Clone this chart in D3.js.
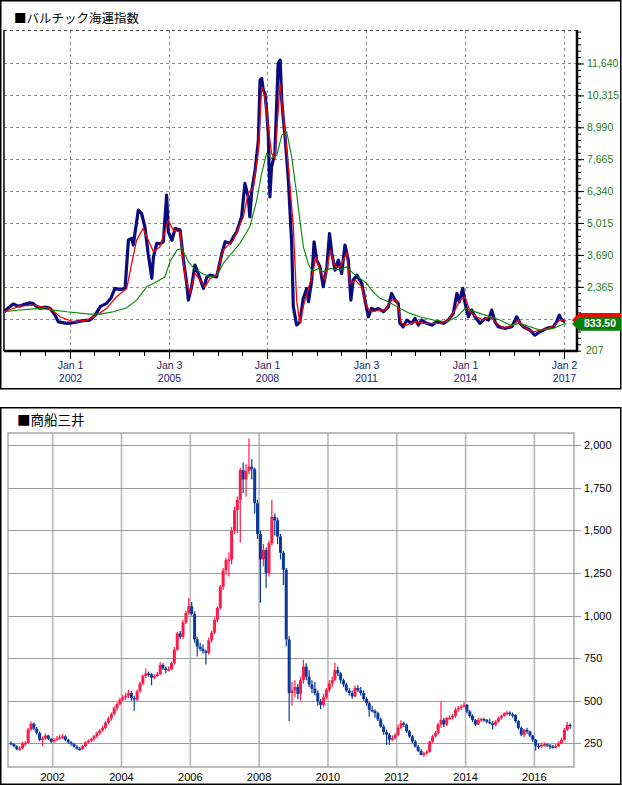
<!DOCTYPE html>
<html>
<head>
<meta charset="utf-8">
<script src="https://cdn.jsdelivr.net/npm/d3@7"></script>
<style>
  body { margin: 0; background: #fff; }
  svg { display: block; }
</style>
</head>
<body>
<svg id="chart" width="622" height="786"></svg>
<script>
/* ---- data: Baltic Dry Index, [decimal year, value] ---- */
var bdiLine = [[2000.00,1330],[2000.12,1480],[2000.28,1650],[2000.38,1590],[2000.49,1565],[2000.62,1640],[2000.79,1700],[2000.88,1680],[2000.97,1560],[2001.09,1470],[2001.25,1520],[2001.40,1470],[2001.55,1190],[2001.65,910],[2001.78,880],[2001.91,850],[2002.05,870],[2002.21,910],[2002.40,960],[2002.61,985],[2002.77,1190],[2002.92,1540],[2003.12,1680],[2003.25,1900],[2003.37,2300],[2003.52,2250],[2003.68,2300],[2003.78,4300],[2003.88,4380],[2003.93,4100],[2004.08,5550],[2004.18,5410],[2004.28,4860],[2004.38,3750],[2004.49,2720],[2004.54,3610],[2004.64,4170],[2004.74,4150],[2004.84,4240],[2004.94,6170],[2004.99,4650],[2005.10,4300],[2005.20,4790],[2005.35,4720],[2005.45,3480],[2005.55,2510],[2005.60,1810],[2005.70,2370],[2005.80,3270],[2005.90,2920],[2006.06,2300],[2006.16,2750],[2006.26,2850],[2006.46,2780],[2006.62,3750],[2006.72,4240],[2006.87,4170],[2006.97,4440],[2007.07,4650],[2007.22,5270],[2007.32,6660],[2007.42,6100],[2007.47,5270],[2007.53,6380],[2007.63,7210],[2007.73,8460],[2007.78,10950],[2007.83,11020],[2007.88,10530],[2007.93,10400],[2007.98,9700],[2008.03,8740],[2008.08,6100],[2008.13,7350],[2008.23,7900],[2008.33,11640],[2008.39,11780],[2008.44,10120],[2008.49,9290],[2008.54,8600],[2008.64,6800],[2008.74,4170],[2008.79,1540],[2008.89,780],[2008.99,900],[2009.09,1880],[2009.20,2300],[2009.25,1750],[2009.35,2645],[2009.42,4235],[2009.50,3475],[2009.60,3200],[2009.70,2370],[2009.81,3200],[2009.89,4580],[2009.96,3750],[2010.06,3060],[2010.16,3475],[2010.26,2920],[2010.36,4100],[2010.46,3475],[2010.54,1810],[2010.61,2645],[2010.72,2850],[2010.87,2510],[2010.97,1810],[2011.07,1120],[2011.17,1470],[2011.27,1400],[2011.37,1470],[2011.53,1330],[2011.68,1540],[2011.78,2090],[2011.88,1810],[2011.98,1680],[2012.03,850],[2012.13,706],[2012.24,985],[2012.39,850],[2012.49,1055],[2012.59,776],[2012.69,985],[2012.84,850],[2013.00,776],[2013.15,913],[2013.35,850],[2013.50,985],[2013.65,1260],[2013.76,2090],[2013.83,1745],[2013.94,2300],[2014.01,1680],[2014.11,1120],[2014.21,1400],[2014.31,1120],[2014.46,850],[2014.62,1055],[2014.72,985],[2014.82,1400],[2014.92,913],[2015.02,706],[2015.22,640],[2015.43,706],[2015.58,1120],[2015.68,850],[2015.78,706],[2015.98,570],[2016.13,361],[2016.29,500],[2016.49,640],[2016.69,706],[2016.79,913],[2016.87,1190],[2016.95,985],[2017.05,913]];

var bdiShortAvg = [[2000.00,1330],[2000.49,1565],[2000.89,1607],[2001.40,1470],[2001.70,1121],[2002.11,913],[2002.51,984],[2002.82,1192],[2003.12,1470],[2003.42,1951],[2003.73,2300],[2003.88,3338],[2004.03,4305],[2004.23,4791],[2004.38,4305],[2004.54,3820],[2004.74,4027],[2004.89,4721],[2004.99,5136],[2005.14,4721],[2005.35,4650],[2005.50,2782],[2005.65,2093],[2005.80,2923],[2005.96,2645],[2006.11,2367],[2006.26,2700],[2006.46,2852],[2006.66,3890],[2006.97,4305],[2007.27,5273],[2007.42,6245],[2007.58,6519],[2007.73,8042],[2007.83,10671],[2007.93,10255],[2008.03,9010],[2008.13,7905],[2008.23,7698],[2008.39,10812],[2008.49,9425],[2008.64,7349],[2008.79,4858],[2008.89,1814],[2008.99,847],[2009.09,1536],[2009.25,2300],[2009.40,3060],[2009.47,3612],[2009.60,3060],[2009.75,2645],[2009.91,3890],[2010.06,3197],[2010.21,3197],[2010.41,3753],[2010.51,2508],[2010.67,2645],[2010.87,2367],[2011.02,1536],[2011.17,1329],[2011.37,1399],[2011.58,1399],[2011.78,1814],[2011.93,1814],[2012.08,847],[2012.24,776],[2012.49,913],[2012.74,847],[2013.00,847],[2013.25,847],[2013.50,984],[2013.70,1399],[2013.86,1814],[2014.01,1951],[2014.16,1329],[2014.36,1121],[2014.56,984],[2014.77,1121],[2014.97,847],[2015.17,639],[2015.48,776],[2015.63,984],[2015.78,706],[2016.09,498],[2016.29,569],[2016.54,639],[2016.74,776],[2016.89,984],[2017.05,984]];

var bdiLongAvg = [[2000.00,1330],[2000.49,1400],[2001.09,1470],[2001.91,1330],[2002.61,1233],[2002.92,1233],[2003.32,1330],[2003.73,1495],[2004.03,1814],[2004.34,2367],[2004.64,2574],[2004.89,2782],[2005.04,3405],[2005.25,3890],[2005.40,3961],[2005.60,3405],[2005.80,3100],[2006.05,2900],[2006.30,2780],[2006.48,2850],[2006.66,3338],[2007.17,4169],[2007.47,4858],[2007.68,5966],[2007.83,7075],[2007.98,7905],[2008.13,7698],[2008.29,7835],[2008.44,8665],[2008.59,8802],[2008.74,7764],[2008.89,6245],[2009.00,5000],[2009.10,4000],[2009.25,3300],[2009.38,3000],[2009.55,3130],[2009.70,2990],[2009.91,3130],[2010.21,3060],[2010.41,3197],[2010.61,2923],[2010.82,2715],[2011.02,2508],[2011.17,2230],[2011.42,1885],[2011.68,1744],[2012.03,1470],[2012.33,1262],[2012.64,1121],[2013.04,984],[2013.45,913],[2013.76,1121],[2014.01,1470],[2014.16,1399],[2014.46,1262],[2014.77,1121],[2015.07,984],[2015.38,776],[2015.68,847],[2015.98,706],[2016.29,569],[2016.69,639],[2017.00,818],[2017.10,833.5]];

var bdiGrid = [1040, 2365, 3690, 5015, 6340, 7665, 8990, 10315, 11640];
var bdiTicks = [2365, 3690, 5015, 6340, 7665, 8990, 10315, 11640];
var bdiMinLabel = 207;
var bdiDateTicks = ["2002-01-01", "2005-01-03", "2008-01-01", "2011-01-03", "2014-01-01", "2017-01-02"];

/* ---- data: 商船三井 monthly bars from Oct 2000, [open, high, low, close] ---- */
var molStart = "2000-10-15";
var molBars = [
  [252,262,238,245],[245,250,225,232],[232,238,208,215],
  [215,232,205,220],[220,258,215,248],[248,262,232,252],[252,340,248,330],[330,378,322,365],[365,372,325,335],[335,345,300,310],[310,318,262,270],[270,290,232,278],[278,305,270,295],[295,300,268,275],[275,282,250,260],
  [260,280,252,270],[270,292,262,278],[278,300,270,285],[285,305,275,290],[290,296,262,270],[270,278,248,255],[255,262,235,245],[245,252,225,230],[230,238,212,218],[218,228,205,215],[215,240,210,232],[232,262,228,255],
  [255,272,245,265],[265,282,255,275],[275,298,262,290],[290,318,280,310],[310,332,300,325],[325,352,318,340],[340,380,332,370],[370,405,360,395],[395,430,382,420],[420,468,412,455],[455,490,440,480],[480,515,470,505],
  [505,535,495,520],[520,548,505,530],[530,565,515,545],[545,556,500,515],[515,528,440,505],[505,565,498,555],[555,612,548,600],[600,655,592,645],[645,690,632,660],[660,672,640,655],[655,662,590,635],[635,655,625,645],
  [645,668,638,655],[655,725,650,710],[710,720,680,690],[690,700,660,680],[680,700,672,685],[685,730,678,720],[720,815,712,800],[800,905,792,895],[895,910,860,875],[875,975,862,960],[960,1030,950,1015],[1015,1104,1005,1055],
  [1055,1080,1000,1010],[1010,1025,840,860],[860,875,760,818],[818,840,790,805],[805,830,775,790],[790,800,712,780],[780,870,770,855],[855,912,840,900],[900,990,890,975],[975,1055,960,1045],[1045,1180,1035,1170],[1170,1280,1150,1265],
  [1265,1340,1240,1325],[1325,1370,1230,1330],[1330,1520,1300,1500],[1500,1640,1480,1620],[1620,1700,1485,1680],[1680,1870,1430,1855],[1855,1900,1720,1800],[1800,1890,1698,1850],[1850,2040,1830,1875],[1875,1920,1800,1860],[1860,1870,1600,1660],[1660,1680,1450,1480],
  [1480,1500,1075,1330],[1330,1420,1290,1385],[1385,1400,1160,1250],[1250,1440,1230,1425],[1425,1680,1410,1580],[1580,1600,1470,1560],[1560,1575,1420,1465],[1465,1480,1330,1370],[1370,1380,1180,1270],[1270,1280,820,860],[860,880,380,545],[545,610,470,560],
  [560,620,520,580],[580,600,510,540],[540,640,500,620],[620,740,600,700],[700,720,620,640],[640,680,580,595],[595,620,545,570],[570,610,530,545],[545,560,470,495],[495,510,450,475],[475,540,465,520],[520,575,510,563],
  [563,620,550,600],[600,640,580,622],[622,722,612,680],[680,700,645,660],[660,668,600,620],[620,630,580,595],[595,605,550,560],[560,575,530,545],[545,560,510,525],[525,590,520,575],[575,592,550,560],[560,580,530,545],
  [545,560,500,510],[510,520,470,485],[485,495,406,446],[446,470,430,440],[440,450,400,426],[426,435,380,390],[390,400,340,348],[348,360,300,315],[315,330,240,300],[300,310,240,270],[270,295,262,280],[280,310,272,299],
  [299,360,290,340],[340,385,330,367],[367,378,345,358],[358,365,310,320],[320,328,280,290],[290,298,250,260],[260,270,225,230],[230,240,198,205],[205,215,178,181],[181,200,170,190],[190,210,182,200],[200,265,195,258],
  [258,300,250,290],[290,322,282,310],[310,370,300,360],[360,495,340,387],[387,400,345,360],[360,405,350,397],[397,412,385,400],[400,420,390,410],[410,460,400,446],[446,470,436,456],[456,478,445,465],[465,490,458,475],
  [475,480,425,436],[436,445,400,410],[410,420,375,387],[387,392,350,360],[360,398,355,387],[387,400,375,392],[392,398,378,387],[387,392,365,375],[375,395,360,367],[367,380,330,358],[358,385,350,377],[377,405,370,397],
  [397,418,388,410],[410,432,405,426],[426,440,415,430],[430,438,410,420],[420,430,400,416],[416,420,370,380],[380,385,330,340],[340,348,290,300],[300,335,285,328],[328,340,305,318],[318,325,285,295],[295,300,258,270],
  [270,275,205,235],[235,250,215,230],[230,252,222,240],[240,255,228,244],[244,250,228,238],[238,245,215,230],[230,240,218,228],[228,245,222,232],[232,262,228,250],[250,282,245,270],[270,340,265,328],[328,375,320,358],
  [358,365,335,350]
];
var molTicks = [250, 500, 750, 1000, 1250, 1500, 1750, 2000];
var molYears = [2002, 2004, 2006, 2008, 2010, 2012, 2014, 2016];

/* helpers */
function yearToDate(t) {
  var y = Math.floor(t), a = new Date(y, 0, 1), b = new Date(y + 1, 0, 1);
  return new Date(+a + (t - y) * (b - a));
}
var parseDay = d3.timeParse("%Y-%m-%d");
var font = "'Liberation Sans', Arial, sans-serif";
var cjk = "'Noto Sans CJK JP', sans-serif";

var svg = d3.select("#chart");

/* ================= top panel: バルチック海運指数 ================= */
var bdi_box = {left: 4, right: 577, top: 30, bottom: 351};
var bdi_x = d3.scaleTime()
    .domain([new Date(2000, 0, 1), yearToDate(2017.41)])
    .range([bdi_box.left, bdi_box.right]);
var bdi_y = d3.scaleLinear()
    .domain([-300, 13030])
    .range([bdi_box.bottom, bdi_box.top]);

svg.append('rect')
  .attr('x', 0.75).attr('y', 0.75).attr('width', 620).attr('height', 388)
  .style('fill', 'none').style('stroke', '#000').style('stroke-width', 1.5);

svg.append('text')
  .attr('x', 14).attr('y', 23)
  .style('font-family', cjk).style('font-size', '12.5px').style('fill', '#000')
  .text('■バルチック海運指数');

// dashed grid
var grid_top = svg.append('g').style('stroke', '#8c8c8c').style('stroke-dasharray', '3,3').style('stroke-width', 1);
bdiGrid.forEach(function(v) {
  grid_top.append('line')
    .attr('x1', bdi_box.left).attr('x2', bdi_box.right)
    .attr('y1', Math.round(bdi_y(v)) + 0.5).attr('y2', Math.round(bdi_y(v)) + 0.5);
});
bdiDateTicks.forEach(function(s) {
  var x = Math.round(bdi_x(parseDay(s))) + 0.5;
  grid_top.append('line').attr('x1', x).attr('x2', x).attr('y1', bdi_box.top).attr('y2', bdi_box.bottom);
});
grid_top.append('line')
  .attr('x1', bdi_box.left).attr('x2', bdi_box.right)
  .attr('y1', bdi_box.top + 0.5).attr('y2', bdi_box.top + 0.5)
  .style('stroke', '#444');

svg.append('line')
  .attr('x1', bdi_box.left).attr('x2', bdi_box.left)
  .attr('y1', bdi_box.top).attr('y2', bdi_box.bottom)
  .style('stroke', '#000').style('stroke-width', 1.5);

// series
var bdi_line = d3.line()
  .x(function(d) { return bdi_x(yearToDate(d[0])); })
  .y(function(d) { return bdi_y(d[1]); });

svg.append('path').datum(bdiLine).attr('d', bdi_line)
  .style('fill', 'none').style('stroke', '#0b0b80').style('stroke-width', 3.2).style('stroke-linejoin', 'round');
svg.append('path').datum(bdiShortAvg).attr('d', bdi_line)
  .style('fill', 'none').style('stroke', '#ff0000').style('stroke-width', 1.3);
svg.append('path').datum(bdiLongAvg).attr('d', bdi_line)
  .style('fill', 'none').style('stroke', '#008a00').style('stroke-width', 1.1);

// right value axis
var minorVals = d3.range(Math.ceil((-300 - 2365) / 265), Math.floor((13030 - 2365) / 265) + 1)
  .map(function(k) { return 2365 + k * 265; });
var bdi_minor = svg.append('g')
  .attr('transform', 'translate(' + bdi_box.right + ',0)')
  .call(d3.axisRight(bdi_y).tickValues(minorVals).tickSize(4).tickFormat(''));
bdi_minor.select('.domain').remove();

var bdi_right = svg.append('g')
  .attr('transform', 'translate(' + bdi_box.right + ',0)')
  .call(d3.axisRight(bdi_y).tickValues(bdiGrid).tickSize(7).tickPadding(3)
    .tickFormat(function(v) { return bdiTicks.indexOf(v) >= 0 ? d3.format(',')(v) : ''; }));
bdi_right.select('.domain').remove();
bdi_right.selectAll('text')
  .style('font-family', font).style('font-size', '10.5px').style('fill', '#1b7d1b');

svg.append('text')
  .attr('x', bdi_box.right + 9).attr('y', bdi_box.bottom).attr('dy', '0.32em')
  .style('font-family', font).style('font-size', '10.5px').style('fill', '#1b7d1b')
  .text(bdiMinLabel);

svg.selectAll('.tick line').style('stroke', '#000');

svg.append('line')
  .attr('x1', bdi_box.right).attr('x2', bdi_box.right)
  .attr('y1', bdi_box.top).attr('y2', bdi_box.bottom + 1)
  .style('stroke', '#000').style('stroke-width', 2.5);

// bottom date axis
svg.append('line')
  .attr('x1', bdi_box.left).attr('x2', bdi_box.right + 1)
  .attr('y1', bdi_box.bottom).attr('y2', bdi_box.bottom)
  .style('stroke', '#000').style('stroke-width', 2.5);

var minorDates = [];
for (var d = new Date(2000, 6, 1); d <= bdi_x.domain()[1]; d = d3.timeMonth.offset(d, 9)) minorDates.push(d);
minorDates.forEach(function(dd) {
  var x = Math.round(bdi_x(dd)) + 0.5;
  svg.append('line').attr('x1', x).attr('x2', x)
    .attr('y1', bdi_box.bottom).attr('y2', bdi_box.bottom + 5)
    .style('stroke', '#000').style('stroke-width', 1);
});
bdiDateTicks.forEach(function(s) {
  var dt = parseDay(s), x = Math.round(bdi_x(dt)) + 0.5;
  svg.append('line').attr('x1', x).attr('x2', x)
    .attr('y1', bdi_box.bottom).attr('y2', bdi_box.bottom + 8)
    .style('stroke', '#000').style('stroke-width', 1);
  svg.append('text')
    .attr('x', x).attr('y', 369)
    .style('font-family', font).style('font-size', '10.5px').style('fill', '#1c1c6e')
    .style('text-anchor', 'middle')
    .text(d3.timeFormat('%b %-d')(dt));
  svg.append('text')
    .attr('x', x).attr('y', 382)
    .style('font-family', font).style('font-size', '10.5px').style('fill', '#1c1c6e')
    .style('text-anchor', 'middle')
    .text(d3.timeFormat('%Y')(dt));
});

// last value tags
function valueTag(v, color) {
  var y = bdi_y(v);
  svg.append('path')
    .attr('d', 'M572,' + y + 'L579,' + (y - 7) + 'L621,' + (y - 7) + 'L621,' + (y + 7) + 'L579,' + (y + 7) + 'Z')
    .style('fill', color);
}
var redLast = bdiShortAvg[bdiShortAvg.length - 1][1];
var greenLast = bdiLongAvg[bdiLongAvg.length - 1][1];
valueTag(redLast, '#ff0000');
valueTag(greenLast, '#0a7d0a');
svg.append('text')
  .attr('x', 600).attr('y', bdi_y(greenLast)).attr('dy', '0.35em')
  .style('font-family', font).style('font-size', '10.5px').style('font-weight', 'bold')
  .style('fill', '#fff').style('text-anchor', 'middle')
  .text(d3.format('.2f')(greenLast));

/* ================= bottom panel: 商船三井 ================= */
var mol_box = {left: 8, right: 574, top: 433, bottom: 767};
var mol_x = d3.scaleTime()
    .domain([yearToDate(2000.70), yearToDate(2017.15)])
    .range([mol_box.left, mol_box.right]);
var mol_y = d3.scaleLinear()
    .domain([110, 2073])
    .range([mol_box.bottom, mol_box.top]);

svg.append('rect')
  .attr('x', 0.75).attr('y', 407.75).attr('width', 620).attr('height', 376.5)
  .style('fill', 'none').style('stroke', '#000').style('stroke-width', 1.5);

svg.append('text')
  .attr('x', 17).attr('y', 425)
  .style('font-family', cjk).style('font-size', '13.5px').style('fill', '#000')
  .text('■商船三井');

molYears.forEach(function(yr) {
  var x = mol_x(new Date(yr, 0, 1));
  svg.append('line').attr('x1', x).attr('x2', x)
    .attr('y1', mol_box.top).attr('y2', mol_box.bottom)
    .style('stroke', '#b8b8b8').style('stroke-width', 1.6);
  svg.append('text')
    .attr('x', x).attr('y', 781)
    .style('font-family', font).style('font-size', '11px').style('fill', '#000')
    .style('text-anchor', 'middle')
    .text(yr);
});
molTicks.forEach(function(v) {
  var y = Math.round(mol_y(v)) + 0.5;
  svg.append('line').attr('x1', mol_box.left).attr('x2', mol_box.right + 7)
    .attr('y1', y).attr('y2', y)
    .style('stroke', '#9c9c9c').style('stroke-width', 1.2);
  svg.append('text')
    .attr('x', mol_box.right + 10).attr('y', y).attr('dy', '0.35em')
    .style('font-family', font).style('font-size', '11px').style('fill', '#000')
    .text(d3.format(',')(v));
});
svg.append('rect')
  .attr('x', mol_box.left).attr('y', mol_box.top)
  .attr('width', mol_box.right - mol_box.left).attr('height', mol_box.bottom - mol_box.top)
  .style('fill', 'none').style('stroke', '#9c9c9c').style('stroke-width', 1.3);

// candles
var start = parseDay(molStart);
var candles = svg.append('g');
molBars.forEach(function(b, i) {
  var dt = d3.timeMonth.offset(start, i);
  var x = mol_x(dt);
  var up = b[3] >= b[0];
  var col = up ? '#ff1a4a' : '#0b3a9c';
  candles.append('line')
    .attr('x1', x).attr('x2', x)
    .attr('y1', mol_y(b[1])).attr('y2', mol_y(b[2]))
    .style('stroke', col).style('stroke-width', 1.2);
  var yTop = mol_y(Math.max(b[0], b[3])), yBot = mol_y(Math.min(b[0], b[3]));
  candles.append('rect')
    .attr('x', x - 1.5).attr('width', 3)
    .attr('y', yTop).attr('height', Math.max(1.5, yBot - yTop))
    .style('fill', col);
});
</script>
</body>
</html>
